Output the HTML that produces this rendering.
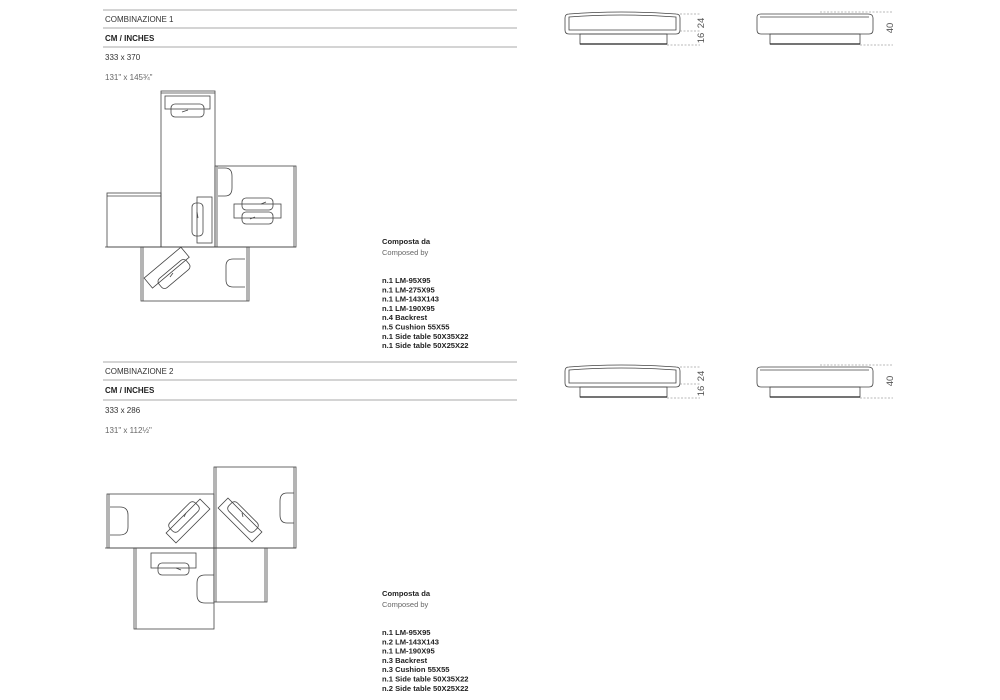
<!DOCTYPE html>
<html><head><meta charset="utf-8"><style>
html,body{margin:0;padding:0;background:#fff;}
svg{display:block;font-family:"Liberation Sans",sans-serif;}
.t{font-size:8px;fill:#333;}
.b{font-size:8px;font-weight:bold;fill:#222;}
.g{font-size:7.5px;fill:#666;}
.g2{font-size:8px;fill:#666;}
.dm{font-size:9.5px;fill:#555;}
.l{font-size:7.6px;font-weight:bold;fill:#222;}
.s{fill:none;stroke:#444;stroke-width:0.8;}
.d{fill:none;stroke:#777;stroke-width:0.6;stroke-dasharray:2,1.5;}
</style></head><body>
<svg width="1000" height="700" viewBox="0 0 1000 700">
<defs>
<g id="elev">
  <path class="s" d="M565 18 Q565 14 569 14 Q620 10 676 14 Q680 14 680 18 L680 30 Q680 34 676 34 L569 34 Q565 34 565 30 Z"/>
  <path class="s" d="M569 17 Q620 13 676 17 L676 30 L569 30 Z"/>
  <rect class="s" x="580" y="34" width="87" height="10"/>
  <line x1="580" y1="44" x2="667" y2="44" stroke="#222" stroke-width="1.2"/>
  <line class="d" x1="680" y1="14" x2="700" y2="14"/>
  <line class="d" x1="680" y1="31" x2="700" y2="31"/>
  <line class="d" x1="667" y1="45" x2="700" y2="45"/>
  <text class="dm" transform="translate(704,23) rotate(-90)" text-anchor="middle">24</text>
  <text class="dm" transform="translate(704,38) rotate(-90)" text-anchor="middle">16</text>
  <path class="s" d="M757 17 Q757 14 761 14 L868 14 Q873 14 873 18 L873 30 Q873 34 869 34 L761 34 Q757 34 757 30 Z"/>
  <path class="s" d="M760 17 L869 17"/>
  <rect class="s" x="770" y="34" width="90" height="10"/>
  <line x1="770" y1="44" x2="860" y2="44" stroke="#222" stroke-width="1.2"/>
  <line class="d" x1="820" y1="12" x2="893" y2="12"/>
  <line class="d" x1="860" y1="45" x2="893" y2="45"/>
  <text class="dm" transform="translate(893,28) rotate(-90)" text-anchor="middle">40</text>
</g>
</defs>

<line x1="103" y1="10" x2="517" y2="10" stroke="#aaa" stroke-width="1"/>
<line x1="103" y1="28" x2="517" y2="28" stroke="#aaa" stroke-width="1"/>
<line x1="103" y1="47" x2="517" y2="47" stroke="#aaa" stroke-width="1"/>
<text class="t" x="105" y="22">COMBINAZIONE 1</text>
<text class="b" x="105" y="41">CM / INCHES</text>
<text class="t" x="105" y="60">333 x 370</text>
<text class="g2" x="105" y="80">131" x 145¾"</text>

<use href="#elev"/>
<use href="#elev" transform="translate(0,353)"/>

<rect class="s" x="161" y="91" width="54" height="156"/>
<line class="s" x1="161" y1="93" x2="215" y2="93"/>
<rect class="s" x="165" y="96" width="45" height="13"/>
<rect class="s" x="171" y="104" width="33" height="13" rx="4"/>
<path class="s" d="M182 112 l6 -2"/>
<rect class="s" x="215" y="166" width="81" height="81"/>
<line class="s" x1="294" y1="166" x2="294" y2="247"/>
<line class="s" x1="217" y1="166" x2="217" y2="247"/>
<path class="s" d="M218 168 h7 q7 0 7 8 v12 q0 8 -7 8 h-7"/>
<rect class="s" x="234" y="204" width="47" height="14"/>
<rect class="s" x="242" y="198" width="31" height="12" rx="4"/>
<rect class="s" x="242" y="212" width="31" height="12" rx="4"/>
<path class="s" d="M261 204 l5 -2 M250 219 l5 -2"/>
<rect class="s" x="107" y="193" width="54" height="54"/>
<line class="s" x1="107" y1="196" x2="161" y2="196"/>
<line class="s" x1="105" y1="247" x2="296" y2="247"/>
<rect class="s" x="197" y="197" width="15" height="46"/>
<rect class="s" x="192" y="203" width="11" height="33" rx="4"/>
<path class="s" d="M197 212 l1 6"/>
<rect class="s" x="141" y="247" width="108" height="54"/>
<line class="s" x1="143" y1="247" x2="143" y2="301"/>
<line class="s" x1="247" y1="247" x2="247" y2="301"/>
<path class="s" d="M245 259 h-12 q-7 0 -7 7 v14 q0 7 7 7 h12"/>
<rect class="s" x="143" y="261" width="48" height="13" transform="rotate(-40 167 268)"/>
<rect class="s" x="156" y="268" width="36" height="12" rx="4" transform="rotate(-40 174 274)"/>
<path class="s" d="M170 277 l3 -4"/>

<text class="l" x="382" y="244">Composta da</text>
<text class="g" x="382" y="255">Composed by</text>
<text class="l" x="382" y="283">n.1 LM-95X95</text>
<text class="l" x="382" y="292.3">n.1 LM-275X95</text>
<text class="l" x="382" y="301.6">n.1 LM-143X143</text>
<text class="l" x="382" y="310.9">n.1 LM-190X95</text>
<text class="l" x="382" y="320.2">n.4 Backrest</text>
<text class="l" x="382" y="329.5">n.5 Cushion 55X55</text>
<text class="l" x="382" y="338.8">n.1 Side table 50X35X22</text>
<text class="l" x="382" y="348.1">n.1 Side table 50X25X22</text>

<line x1="103" y1="362" x2="517" y2="362" stroke="#aaa" stroke-width="1"/>
<line x1="103" y1="380" x2="517" y2="380" stroke="#aaa" stroke-width="1"/>
<line x1="103" y1="400" x2="517" y2="400" stroke="#aaa" stroke-width="1"/>
<text class="t" x="105" y="374">COMBINAZIONE 2</text>
<text class="b" x="105" y="393">CM / INCHES</text>
<text class="t" x="105" y="413">333 x 286</text>
<text class="g2" x="105" y="433">131" x 112½"</text>

<rect class="s" x="107" y="494" width="107" height="54"/>
<line class="s" x1="109" y1="494" x2="109" y2="548"/>
<path class="s" d="M110 507 h10 q8 0 8 8 v12 q0 8 -8 8 h-10"/>
<rect class="s" x="214" y="467" width="82" height="81"/>
<line class="s" x1="216" y1="467" x2="216" y2="602"/>
<line class="s" x1="294" y1="467" x2="294" y2="548"/>
<path class="s" d="M294 493 h-7 q-7 0 -7 8 v14 q0 8 7 8 h7"/>
<rect class="s" x="134" y="548" width="80" height="81"/>
<line class="s" x1="136" y1="548" x2="136" y2="629"/>
<rect class="s" x="151" y="553" width="45" height="15"/>
<rect class="s" x="158" y="563" width="31" height="12" rx="4"/>
<path class="s" d="M176 568 l5 2"/>
<path class="s" d="M214 575 h-9 q-8 0 -8 8 v12 q0 8 8 8 h9"/>
<rect class="s" x="214" y="548" width="53" height="54"/>
<line class="s" x1="265" y1="548" x2="265" y2="602"/>
<line class="s" x1="105" y1="548" x2="296" y2="548"/>
<rect class="s" x="164" y="514" width="48" height="14" transform="rotate(-45 188 521)"/>
<rect class="s" x="166" y="511" width="36" height="12" rx="4" transform="rotate(-45 184 517)"/>
<path class="s" d="M184 517 l2 -4"/>
<rect class="s" x="216" y="513" width="48" height="14" transform="rotate(45 240 520)"/>
<rect class="s" x="225" y="511" width="36" height="12" rx="4" transform="rotate(45 243 517)"/>
<path class="s" d="M243 517 l-1 -4"/>

<text class="l" x="382" y="596">Composta da</text>
<text class="g" x="382" y="607">Composed by</text>
<text class="l" x="382" y="635">n.1 LM-95X95</text>
<text class="l" x="382" y="644.3">n.2 LM-143X143</text>
<text class="l" x="382" y="653.6">n.1 LM-190X95</text>
<text class="l" x="382" y="662.9">n.3 Backrest</text>
<text class="l" x="382" y="672.2">n.3 Cushion 55X55</text>
<text class="l" x="382" y="681.5">n.1 Side table 50X35X22</text>
<text class="l" x="382" y="690.8">n.2 Side table 50X25X22</text>
</svg>
</body></html>
